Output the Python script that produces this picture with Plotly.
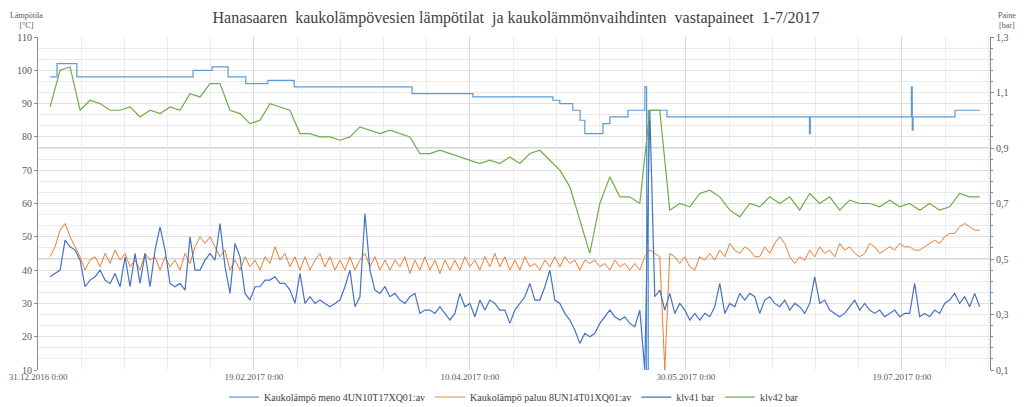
import numpy as np
import pandas as pd
import plotly.graph_objects as go

T0 = pd.Timestamp("2016-12-31")
START_DAY, END_DAY = 2.8, 218.0

# Kaukolämpö meno (step changes): day offset from 31.12.2016, °C
meno_days = [2.8, 4.4, 9.0, 35.9, 40.3, 44.0, 48.1, 53.2, 59.3, 86.6, 100.7, 119.2, 120.8, 123.8,
             125.5, 126.6, 130.8, 132.4, 136.6, 140.5, 140.9, 141.3, 145.6, 178.6, 178.8, 202.2,
             202.4, 202.6, 212.3, 218.0]
meno_vals = [98, 102, 98, 100, 101, 98, 96, 97, 95, 93, 92, 91, 90, 88,
             85, 81, 84, 86, 88, 95, 10, 88, 86, 81, 86, 95,
             82, 86, 88, 88]

# Kaukolämpö paluu, °C (regular samples)
paluu = [44,47,52,54,50,47,44,40,43,44,41,45,42,46,43,45,41,43,40,45,43,44,40,44,41,43,40,45,42,47,
         50,48,50,47,44,46,40,43,40,44,41,43,40,44,42,47,43,45,41,44,40,44,40,43,45,41,44,40,43,40,
         44,40,43,45,41,44,40,43,40,43,41,44,39,43,40,44,40,43,39,43,40,43,40,44,41,43,40,44,41,45,
         41,44,40,43,40,44,41,42,40,43,41,44,41,44,42,43,40,43,42,43,41,42,40,43,41,42,40,42,40,44,
         46,45,44,10,45,44,42,44,41,40,44,43,45,43,46,44,48,46,45,47,46,44,44,47,45,48,50,48,44,42,
         44,43,46,44,47,45,46,44,48,46,47,45,44,45,48,47,45,46,47,46,48,47,47,46,46,47,48,49,48,50,
         51,51,53,54,53,52,52]

# klv41 (values read on the left °C scale, converted to bar below)
klv41_read = [38,39,40,49,47,46,43,35,37,38,40,37,36,39,35,44,35,45,36,45,35,46,53,46,36,35,36,34,50,40,
              40,43,45,43,54,41,33,48,44,33,31,35,35,37,37,38,36,36,34,30,39,30,32,30,31,30,29,30,31,35,
              40,29,32,57,40,34,33,35,32,33,31,30,32,33,27,28,28,27,29,27,25,27,33,29,30,26,31,28,31,30,
              28,28,24,28,30,32,36,31,31,35,40,31,30,27,25,22,18,21,20,21,24,26,28,26,25,26,24,23,28,10,
              88,32,34,28,33,27,30,28,25,27,25,27,26,29,36,27,30,29,33,31,33,32,27,31,32,30,29,31,28,30,
              29,27,30,38,30,31,28,27,26,27,29,31,28,30,28,27,28,26,27,28,26,27,27,36,26,27,26,28,27,30,
              31,33,30,32,29,33,29]

# klv42 (values read on the left °C scale, converted to bar below)
klv42_read = [89,100,101,88,91,90,88,88,89,86,88,87,89,88,93,92,96,96,88,87,84,85,90,89,88,81,81,80,80,79,
              80,83,82,81,82,81,80,75,75,76,75,74,73,72,73,72,74,72,75,76,73,70,65,55,45,60,68,62,62,60,
              88,88,58,60,59,63,64,62,58,56,60,59,62,60,62,58,63,60,62,58,61,60,60,59,61,59,60,58,60,58,
              59,63,62,62]

def to_bar(v):
    return [0.1 + (x - 10) * 0.012 for x in v]

def times(n):
    d = np.linspace(START_DAY, END_DAY, n)
    return [T0 + pd.Timedelta(days=float(x)) for x in d]

meno_t = [T0 + pd.Timedelta(days=d) for d in meno_days]
serif = "Liberation Serif"

fig = go.Figure()
fig.add_trace(go.Scatter(x=meno_t, y=meno_vals, mode="lines", line=dict(color="#5B9BD5", width=1.2, shape="hv"),
                         name="Kaukolämpö meno 4UN10T17XQ01:av"))
fig.add_trace(go.Scatter(x=times(len(paluu)), y=paluu, mode="lines", line=dict(color="#ED7D31", width=1),
                         name="Kaukolämpö paluu 8UN14T01XQ01:av"))
fig.add_trace(go.Scatter(x=times(len(klv41_read)), y=to_bar(klv41_read), mode="lines", yaxis="y2",
                         line=dict(color="#4472C4", width=1.2), name="klv41 bar"))
fig.add_trace(go.Scatter(x=times(len(klv42_read)), y=to_bar(klv42_read), mode="lines", yaxis="y2",
                         line=dict(color="#70AD47", width=1.2), name="klv42 bar"))

for v in [0.3, 0.5, 0.7, 0.9, 1.1]:
    fig.add_shape(type="line", xref="paper", x0=0, x1=1, yref="y2", y0=v, y1=v,
                  line=dict(color="#A6AEB8", width=1), layer="below")

xticks = [T0 + pd.Timedelta(days=d) for d in [0, 50, 100, 150, 200]]
xlabels = [t.strftime("%d.%m.%Y") + " 0:00" for t in xticks]

fig.update_layout(
    width=1016, height=399,
    margin=dict(l=30, r=34, t=29, b=37, autoexpand=False),
    paper_bgcolor="white", plot_bgcolor="white",
    font=dict(family=serif, color="#595959", size=10),
    title=dict(text="Hanasaaren  kaukolämpövesien lämpötilat  ja kaukolämmönvaihdinten  vastapaineet  1-7/2017",
               x=0.5, xanchor="center", yref="container", y=0.977, yanchor="middle",
               font=dict(family=serif, size=16, color="#404040")),
    showlegend=True,
    legend=dict(orientation="h", x=0.5, xanchor="center", yref="container", y=0.025, yanchor="middle",
                font=dict(family=serif, size=10, color="#404040")),
    xaxis=dict(type="date", range=[T0, T0 + pd.Timedelta(days=220.4)],
               tickmode="array", tickvals=xticks, ticktext=xlabels, tickangle=0,
               showgrid=True, gridcolor="#D9D9D9", gridwidth=1,
               minor=dict(dtick=10 * 86400000, tick0=T0, showgrid=True, gridcolor="#EDEDED"),
               showline=False, zeroline=False, ticks="", tickfont=dict(size=9)),
    yaxis=dict(range=[10, 110], dtick=10, showgrid=True, gridcolor="#E0E0E0",
               showline=True, linecolor="#8C8C8C", ticks="outside", ticklen=3, tickcolor="#8C8C8C",
               zeroline=False, tickfont=dict(size=10)),
    yaxis2=dict(range=[0.1, 1.3], overlaying="y", side="right", tickmode="array",
                tickvals=[0.1, 0.3, 0.5, 0.7, 0.9, 1.1, 1.3],
                ticktext=["0,1", "0,3", "0,5", "0,7", "0,9", "1,1", "1,3"],
                showgrid=False,
                showline=True, linecolor="#7F8A99", ticks="outside", ticklen=3, tickcolor="#7F8A99",
                zeroline=False, tickfont=dict(size=10),
                minor=dict(tickmode="linear", dtick=0.04, tick0=0.1, showgrid=True, gridcolor="#EBEBEB",
                           ticks="outside", ticklen=2, tickcolor="#7F8A99")),
)

fig.add_annotation(text="Lämpötila<br>[°C]", xref="paper", yref="paper", x=-0.012, y=1.085, xanchor="center",
                   yanchor="top", showarrow=False, font=dict(family=serif, size=8, color="#595959"))
fig.add_annotation(text="Paine<br>[bar]", xref="paper", yref="paper", x=1.018, y=1.085, xanchor="center",
                   yanchor="top", showarrow=False, font=dict(family=serif, size=8, color="#595959"))

fig.write_html("out.html")
